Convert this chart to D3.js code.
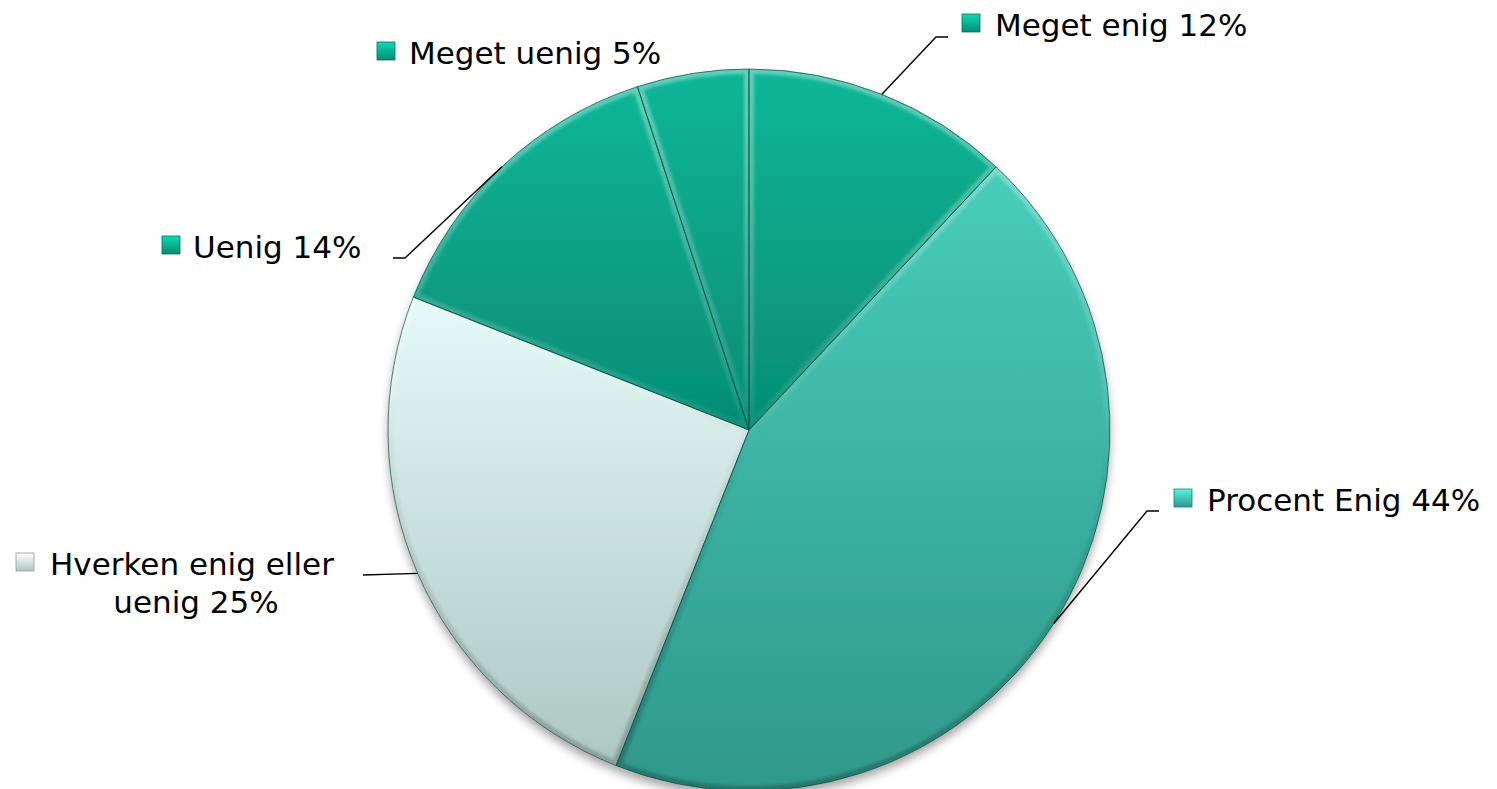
<!DOCTYPE html>
<html>
<head>
<meta charset="utf-8">
<script src="https://cdn.jsdelivr.net/npm/d3@7"></script>
<style>
  html, body { margin: 0; padding: 0; background: #fff; }
  svg { display: block; }
  text { font-family: "DejaVu Sans", Verdana, sans-serif; fill: #000; }
</style>
</head>
<body>
<svg id="chart" width="1497" height="789"></svg>
<script>
// Survey answers, clockwise from 12 o'clock
const categories = ["Meget enig", "Procent Enig", "Hverken enig eller uenig", "Uenig", "Meget uenig"];
const values = [12, 44, 25, 14, 5];

// Fill gradient per slice (top colour, bottom colour), spread over each slice's own box
const topColors = ["#0bb798", "#48cdbb", "#e4faf7", "#0bb698", "#0bb698"];
const bottomColors = ["#068b73", "#2f988a", "#aec7c1", "#068b73", "#068b73"];

const W = 1497, H = 789;
const cx = 749, cy = 430, R = 361;

const svg = d3.select("#chart");
const defs = svg.append("defs");

categories.forEach((c, i) => {
  const g = defs.append("linearGradient")
    .attr("id", "fill" + i)
    .attr("x1", 0).attr("x2", 0)
    .attr("y1", 0).attr("y2", 1);
  g.append("stop").attr("offset", 0).attr("stop-color", topColors[i]);
  g.append("stop").attr("offset", 1).attr("stop-color", bottomColors[i]);

  const m = defs.append("linearGradient")
    .attr("id", "mark" + i)
    .attr("x1", 0).attr("x2", 0).attr("y1", 0).attr("y2", 1);
  m.append("stop").attr("offset", 0).attr("stop-color", d3.color(topColors[i]).brighter(0.5));
  m.append("stop").attr("offset", 1).attr("stop-color", bottomColors[i]);
});

// bevel rim in the pie's local space: light toward the top, dark toward the bottom
const rim = defs.append("linearGradient")
  .attr("id", "rim")
  .attr("gradientUnits", "userSpaceOnUse")
  .attr("x1", 0).attr("x2", 0)
  .attr("y1", -R).attr("y2", R);
rim.append("stop").attr("offset", 0).attr("stop-color", "#ffffff").attr("stop-opacity", 0.35);
rim.append("stop").attr("offset", 0.45).attr("stop-color", "#ffffff").attr("stop-opacity", 0.1);
rim.append("stop").attr("offset", 0.6).attr("stop-color", "#000000").attr("stop-opacity", 0.05);
rim.append("stop").attr("offset", 1).attr("stop-color", "#000000").attr("stop-opacity", 0.22);

const shadow = defs.append("filter").attr("id", "shadow")
  .attr("x", "-10%").attr("y", "-10%").attr("width", "120%").attr("height", "125%");
shadow.append("feGaussianBlur").attr("in", "SourceAlpha").attr("stdDeviation", 5).attr("result", "b");
shadow.append("feOffset").attr("in", "b").attr("dx", 0).attr("dy", 6).attr("result", "o");
shadow.append("feComponentTransfer").attr("in", "o").attr("result", "s")
  .append("feFuncA").attr("type", "linear").attr("slope", 0.35);
const mg = shadow.append("feMerge");
mg.append("feMergeNode").attr("in", "s");
mg.append("feMergeNode").attr("in", "SourceGraphic");

const soft = defs.append("filter").attr("id", "soft");
soft.append("feGaussianBlur").attr("stdDeviation", 1.5);

const pie = d3.pie().sort(null).value(d => d)(values);
const arc = d3.arc().innerRadius(0).outerRadius(R);

const root = svg.append("g").attr("transform", `translate(${cx},${cy})`);

// clip paths per slice for the bevel strokes
pie.forEach((p, i) => {
  defs.append("clipPath").attr("id", "clip" + i)
    .append("path").attr("d", arc(p));
});

const pieG = root.append("g").attr("filter", "url(#shadow)");
pieG.selectAll("path.slice")
  .data(pie)
  .join("path")
  .attr("class", "slice")
  .attr("d", arc)
  .attr("fill", (d, i) => `url(#fill${i})`);

// bevel along each slice border
const bevel = root.append("g");
pie.forEach((p, i) => {
  bevel.append("g").attr("clip-path", `url(#clip${i})`)
    .append("path")
    .attr("d", arc(p))
    .attr("fill", "none")
    .attr("stroke", "url(#rim)")
    .attr("stroke-width", 10)
    .attr("filter", "url(#soft)");
});

// slice outlines
root.append("g").selectAll("path")
  .data(pie)
  .join("path")
  .attr("d", arc)
  .attr("fill", "none")
  .attr("stroke", "#0a4f43")
  .attr("stroke-opacity", 0.7)
  .attr("stroke-width", 1);

// labels with leader lines anchored at the middle of each slice's outer edge
const labelLayout = [
  { x: 995, y: 36, mx: 962, elbow: [948, 37], end: [936, 37] },
  { x: 1207, y: 511, mx: 1174, elbow: [1159, 511], end: [1147, 511] },
  { x: 50, y: 575, mx: 16, elbow: null, end: [363, 575], center: 196 },
  { x: 193, y: 258, mx: 162, elbow: [393, 258], end: [405, 258] },
  { x: 409, y: 64, mx: 377, elbow: null, end: null }
];

const fontSize = 31;
const lab = svg.append("g");
pie.forEach((p, i) => {
  const L = labelLayout[i];
  const mid = (p.startAngle + p.endAngle) / 2;
  const ax = cx + R * Math.sin(mid), ay = cy - R * Math.cos(mid);
  const pct = values[i] + "%";

  if (L.end) {
    const pts = L.elbow ? [L.elbow, L.end, [ax, ay]] : [L.end, [ax, ay]];
    lab.append("path")
      .attr("d", d3.line()(pts))
      .attr("fill", "none")
      .attr("stroke", "#000")
      .attr("stroke-width", 1.4);
  }

  lab.append("rect")
    .attr("x", L.mx).attr("y", L.y - 22)
    .attr("width", 18).attr("height", 18)
    .attr("fill", `url(#mark${i})`)
    .attr("stroke", d3.color(bottomColors[i]).darker(0.6))
    .attr("stroke-width", 0.8);

  if (i !== 2) {
    lab.append("text")
      .attr("x", L.x).attr("y", L.y)
      .attr("font-size", fontSize)
      .text(categories[i] + " " + pct);
  } else {
    lab.append("text")
      .attr("x", L.x).attr("y", L.y)
      .attr("font-size", fontSize)
      .text("Hverken enig eller");
    lab.append("text")
      .attr("x", L.center).attr("y", L.y + 38)
      .attr("text-anchor", "middle")
      .attr("font-size", fontSize)
      .text("uenig " + pct);
  }
});
</script>
</body>
</html>
